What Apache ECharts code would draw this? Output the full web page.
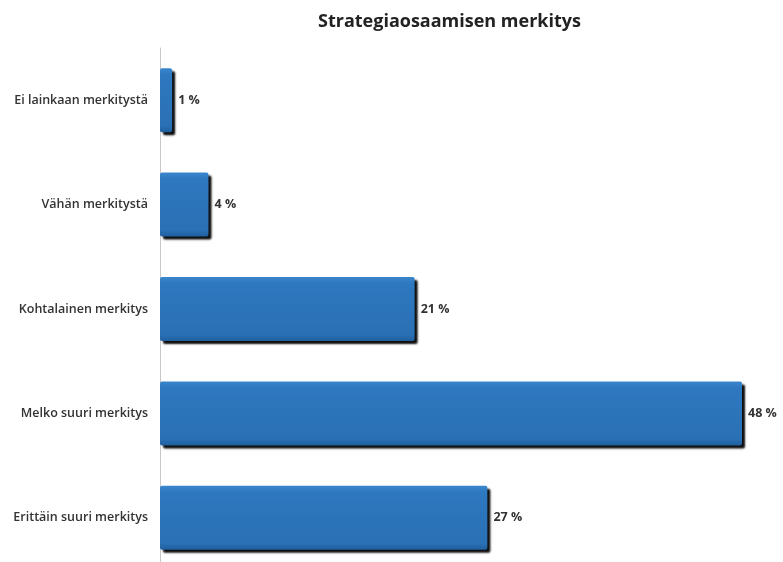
<!DOCTYPE html>
<html>
<head>
<meta charset="utf-8">
<script src="https://cdn.jsdelivr.net/npm/echarts@6/dist/echarts.min.js"></script>
<style>html,body{margin:0;padding:0;background:#fff;overflow:hidden;}#c{width:783px;height:580px;}</style>
</head>
<body>
<div id="c"></div>
<script>
const titleText = 'Strategiaosaamisen merkitys';
const categories = ['Ei lainkaan merkitystä', 'Vähän merkitystä', 'Kohtalainen merkitys', 'Melko suuri merkitys', 'Erittäin suuri merkitys'];
const values = [1, 4, 21, 48, 27];

const chart = echarts.init(document.getElementById('c'), null, {renderer: 'canvas'});
chart.setOption({
  animation: false,
  backgroundColor: '#ffffff',
  title: {
    text: titleText,
    left: 313, top: 8,
    textStyle: {fontFamily: 'Open Sans', fontWeight: 'bold', fontSize: 18, color: '#222'}
  },
  grid: {left: 160, right: 41, top: 48, height: 522, containLabel: false},
  xAxis: {
    type: 'value', min: 0, max: 48,
    show: false
  },
  yAxis: {
    type: 'category', data: categories, inverse: true,
    axisLine: {show: true, lineStyle: {color: '#c8c8c8', width: 1}},
    axisTick: {show: false},
    axisLabel: {margin: 12, fontFamily: 'Open Sans', fontSize: 12.5, fontWeight: 600, color: '#333'},
    splitLine: {show: false}
  },
  series: [{
    type: 'bar',
    data: values,
    barWidth: 64,
    itemStyle: {
      color: new echarts.graphic.LinearGradient(0, 0, 0, 1, [
        {offset: 0, color: '#3a86cc'},
        {offset: 0.1, color: '#2e78bf'},
        {offset: 0.9, color: '#2a70b5'},
        {offset: 1, color: '#1f5f9e'}
      ]),
      borderRadius: 2,
      shadowColor: 'rgba(0,0,0,0.95)',
      shadowOffsetX: 3, shadowOffsetY: 3, shadowBlur: 2
    },
    label: {
      show: true, position: 'right', distance: 6,
      formatter: p => p.value + ' %',
      fontFamily: 'Open Sans', fontSize: 12.5, fontWeight: 'bold', color: '#333'
    }
  }]
});
</script>
</body>
</html>
